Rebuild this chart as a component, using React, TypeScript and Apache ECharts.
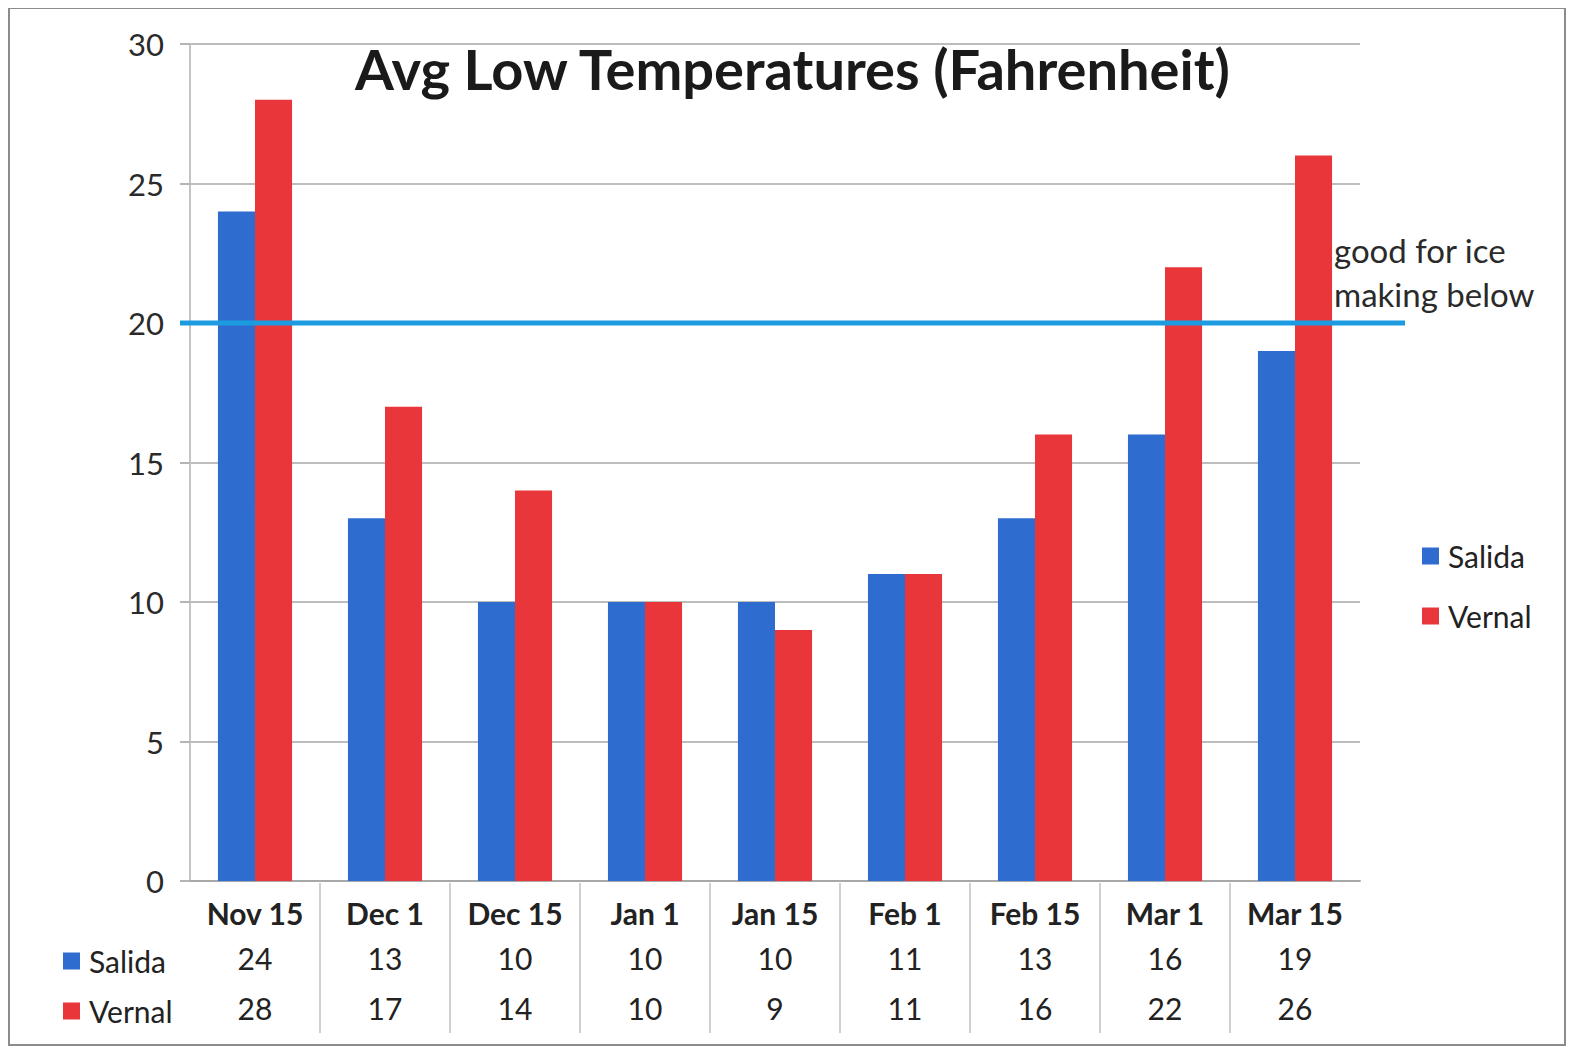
import React, { useEffect, useRef } from "react";
import * as echarts from "echarts";

const categories = ["Nov 15", "Dec 1", "Dec 15", "Jan 1", "Jan 15", "Feb 1", "Feb 15", "Mar 1", "Mar 15"];
const salida = [24, 13, 10, 10, 10, 11, 13, 16, 19];
const vernal = [28, 17, 14, 10, 9, 11, 16, 22, 26];
const threshold = 20;
const yTicks = { min: 0, max: 30, interval: 5 };
const titleText = "Avg Low Temperatures (Fahrenheit)";
const noteText = "good for ice\nmaking below";

const FONT = "Lato, 'Noto Sans', sans-serif";
const BLUE = "#2f6ccf";
const RED = "#e8363b";

export default function App() {
  const ref = useRef<HTMLDivElement>(null);
  useEffect(() => {
    if (!ref.current) return;
    const chart = echarts.init(ref.current, null, { renderer: "svg" });
    const option: any = {
      animation: false,
      backgroundColor: "#ffffff",
      textStyle: { fontFamily: FONT },
      title: {
        text: titleText,
        left: "center",
        top: 27,
        textStyle: { fontFamily: FONT, fontSize: 56, fontWeight: "bold", color: "#1a1a1a" },
      },
      graphic: [
        {
          type: "rect",
          shape: { x: 1, y: 0, width: 1556, height: 1037 },
          style: { fill: "none", stroke: "#8c8c8c", lineWidth: 2 },
          silent: true,
        },
        {
          type: "text",
          left: 1326,
          top: 220,
          style: {
            text: noteText,
            font: `33px ${FONT}`,
            fill: "#2a2a2a",
            lineHeight: 44,
          },
          z: 20,
        },
      ],
      legend: [
        {
          data: ["Salida", "Vernal"],
          orient: "vertical",
          left: 1409,
          top: 528,
          itemWidth: 17,
          itemHeight: 17,
          itemGap: 30,
          icon: "rect",
          textStyle: { fontFamily: FONT, fontSize: 30, color: "#222", lineHeight: 30, padding: [0, 0, 0, 4] },
        },
        {
          data: ["Salida", "Vernal"],
          orient: "vertical",
          left: 50,
          top: 933,
          itemWidth: 17,
          itemHeight: 17,
          itemGap: 20,
          icon: "rect",
          textStyle: { fontFamily: FONT, fontSize: 30, color: "#222", lineHeight: 30, padding: [0, 0, 0, 4] },
        },
      ],
      grid: { left: 182, right: 217, top: 36, bottom: 170, containLabel: false },
      xAxis: {
        type: "category",
        data: categories,
        boundaryGap: true,
        axisLine: { show: true, lineStyle: { color: "#a8a8a8", width: 2 } },
        axisTick: { show: false },
        axisLabel: {
          margin: 10,
          interval: 0,
          formatter: (value: string, idx: number) =>
            `{c|${value}}\n{s|${salida[idx]}}\n{v|${vernal[idx]}}`,
          rich: {
            c: { fontFamily: FONT, fontSize: 30, fontWeight: "bold", color: "#222", lineHeight: 44 },
            s: { fontFamily: FONT, fontSize: 30, color: "#222", lineHeight: 46 },
            v: { fontFamily: FONT, fontSize: 30, color: "#222", lineHeight: 54 },
          },
        },
      },
      yAxis: {
        type: "value",
        min: yTicks.min,
        max: yTicks.max,
        interval: yTicks.interval,
        axisLine: { show: true, lineStyle: { color: "#c4c4c4", width: 2 } },
        axisTick: { show: true, length: 10, lineStyle: { color: "#b4b4b4", width: 2 } },
        axisLabel: { margin: 26, fontFamily: FONT, fontSize: 31, color: "#2a2a2a" },
        splitLine: { show: true, lineStyle: { color: "#bdbdbd", width: 2 } },
      },
      series: [
        {
          name: "Salida",
          type: "bar",
          data: salida,
          barGap: "0%",
          barCategoryGap: "43%",
          itemStyle: { color: BLUE },
        },
        {
          name: "Vernal",
          type: "bar",
          data: vernal,
          itemStyle: { color: RED },
        },
        {
          name: "threshold",
          type: "custom",
          clip: false,
          z: 10,
          data: [[0, threshold]],
          renderItem: (params: any, api: any) => {
            const cs = params.coordSys;
            const y = api.coord([0, api.value(1)])[1];
            return {
              type: "line",
              shape: { x1: cs.x - 10, y1: y, x2: cs.x + cs.width + 45, y2: y },
              style: { stroke: "#1d9be0", lineWidth: 5 },
            };
          },
        },
        {
          name: "tableLines",
          type: "custom",
          clip: false,
          z: 1,
          data: categories.slice(1).map((_, i) => [i + 1, 0]),
          renderItem: (params: any, api: any) => {
            const p = api.coord([api.value(0), 0]);
            const band = api.size([1, 0])[0];
            const x = p[0] - band / 2;
            return {
              type: "line",
              shape: { x1: x, y1: p[1] + 2, x2: x, y2: p[1] + 152 },
              style: { stroke: "#d0d0d0", lineWidth: 2 },
            };
          },
        },
      ],
    };
    chart.setOption(option);
    return () => chart.dispose();
  }, []);
  return <div ref={ref} style={{ width: 1569, height: 1043 }} />;
}
